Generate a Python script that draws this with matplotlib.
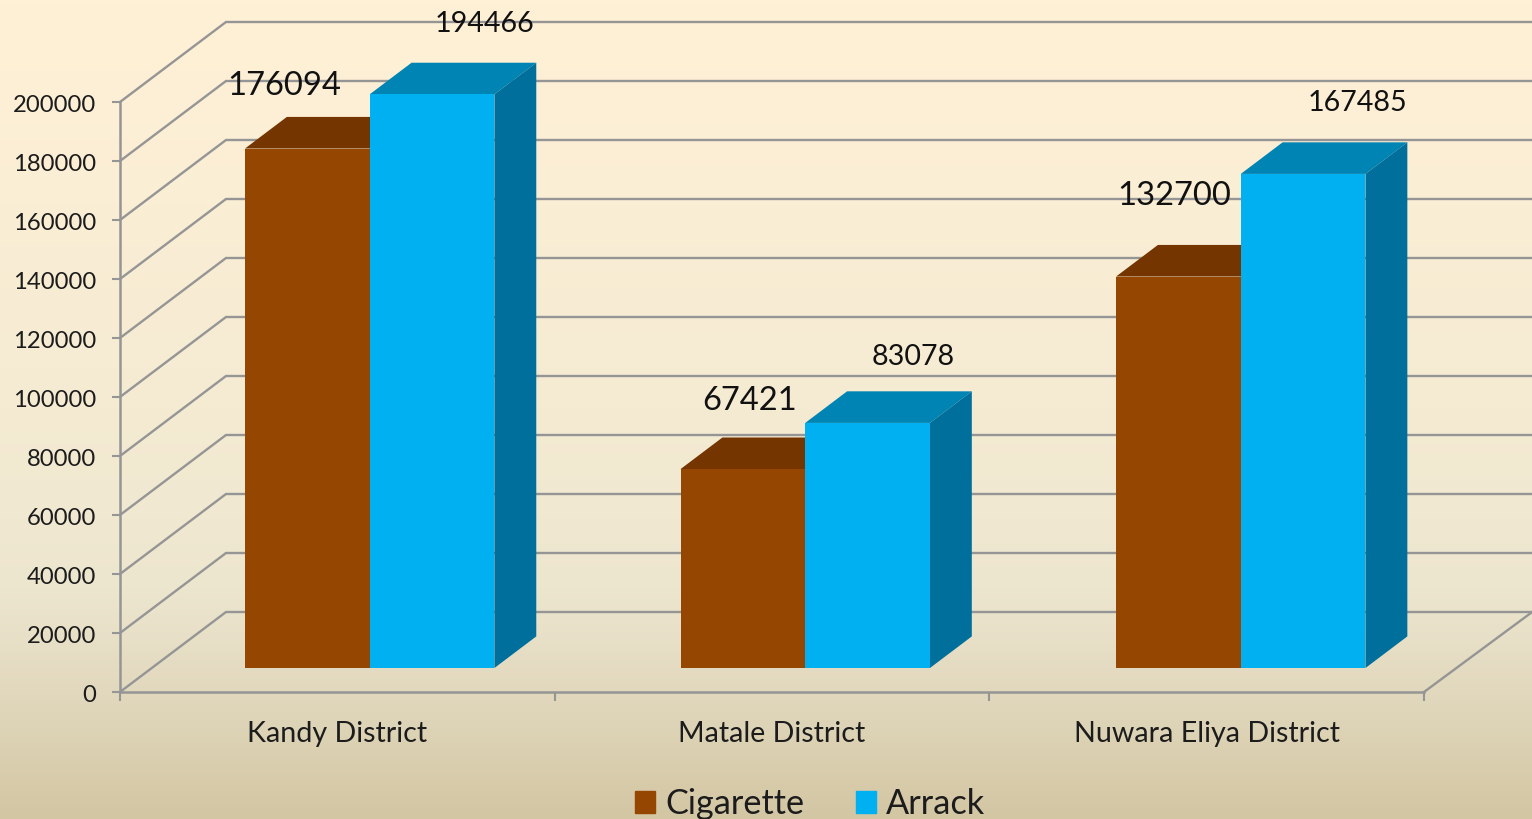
import matplotlib
matplotlib.use("Agg")
import matplotlib.pyplot as plt
from matplotlib.colors import LinearSegmentedColormap
from matplotlib.patches import Polygon, Patch
from matplotlib.transforms import ScaledTranslation
import numpy as np

# data
districts = ["Kandy District", "Matale District", "Nuwara Eliya District"]
cigarette = [176094, 67421, 132700]
arrack = [194466, 83078, 167485]
y_ticks = [0, 20000, 40000, 60000, 80000, 100000, 120000, 140000, 160000, 180000, 200000]

W, H = 1532, 819
plt.rcParams["font.family"] = ["Lato", "DejaVu Sans"]
TEXT = "#1c1c1c"
GRID = "#959595"

fig = plt.figure(figsize=(W / 100, H / 100), dpi=100)

# background gradient
bg = fig.add_axes([0, 0, 1, 1], zorder=0)
cmap = LinearSegmentedColormap.from_list("bg", [(0, "#FFF1D6"), (0.5, "#F5EBD3"), (0.72, "#EDE6CF"),
                                                (0.85, "#E1D8BD"), (1, "#D3C6A3")])
bg.imshow(np.linspace(0, 1, 256).reshape(-1, 1), cmap=cmap, aspect="auto")
bg.axis("off")

# plot area, front plane of the 3d box
ax = fig.add_axes([120 / W, 1 - 692 / H, 1304 / W, 590 / H], zorder=1)
ax.patch.set_alpha(0)
ax.set_xlim(0, 3)
ax.set_ylim(0, 200000)

# oblique depth: one unit of depth in data units
depth_x = 106 / (1304 / 3)
depth_y = 80 / 590 * 200000


def proj(x, y, z):
    return x + z * depth_x, y + z * depth_y


# walls
for v in y_ticks:
    x0, y0 = proj(0, v, 0)
    x1, y1 = proj(0, v, 1)
    x2, y2 = proj(3.02, v, 1)
    ax.plot([x0, x1, x2], [y0, y1, y1], color=GRID, lw=1.7, clip_on=False, zorder=2, solid_joinstyle="miter")
x0, y0 = proj(3, 0, 0)
x1, y1 = proj(3.005, 0, 1)
ax.plot([x0, x1], [y0, y1], color=GRID, lw=1.7, clip_on=False, zorder=2)

# bars
bar_w = 0.2869
z_front = 0.30
z_back = 0.695
first = 0.2144
spacing = 1.002
series = [(cigarette, "#954600", "#743500", "#743500", "Cigarette"),
          (arrack, "#00B0F0", "#0084B4", "#006F9C", "Arrack")]
label_sizes = [23.6, 20.6]
label_off = [[(-23, 63), (7, 68), (-4, 81)], [(52, 70), (46, 66), (54, 71)]]

for j in range(3):
    for s, (vals, front, top, side, name) in enumerate(series):
        v = vals[j]
        left = j * spacing + first + s * bar_w
        right = left + bar_w
        xf0, base = proj(left, 0, z_front)
        xf1, yf = proj(right, v, z_front)
        xb0, yb = proj(left, v, z_back)
        xb1, base_b = proj(right, 0, z_back)
        ax.bar(xf0, v, bar_w, bottom=base, align="edge", color=front, clip_on=False, zorder=5 + s)
        ax.add_patch(Polygon([(xf0, yf), (xb0, yb), (xb1, yb), (xf1, yf)], closed=True,
                             fc=top, ec="none", clip_on=False, zorder=4 + s))
        ax.add_patch(Polygon([(xf1, yf), (xb1, yb), (xb1, base_b), (xf1, base)], closed=True,
                             fc=side, ec="none", clip_on=False, zorder=4 + s))
        ax.annotate(str(v), (xf0 + bar_w / 2, yf), xytext=label_off[s][j], textcoords="offset pixels",
                    ha="center", va="center", fontsize=label_sizes[s], color="#111111",
                    annotation_clip=False, zorder=9)

# axes
for side in ["top", "right"]:
    ax.spines[side].set_visible(False)
for side in ["left", "bottom"]:
    ax.spines[side].set_color(GRID)
    ax.spines[side].set_linewidth(1.8)
    ax.spines[side].set_zorder(3)
ax.set_yticks(y_ticks)
ax.set_yticklabels([str(v) for v in y_ticks])
ax.tick_params(axis="y", length=5.8, width=1.5, color=GRID, pad=11.5, labelsize=17.2, labelcolor=TEXT)
for lbl in ax.get_yticklabels():
    lbl.set_transform(lbl.get_transform() + ScaledTranslation(0, -1.5 / 100, fig.dpi_scale_trans))
ax.set_xticks([0, 1, 2, 3])
ax.set_xticklabels([])
ax.tick_params(axis="x", length=6.5, width=1.5, color=GRID)
ax.set_xticks([0.5, 1.5, 2.5], labels=districts, minor=True)
ax.tick_params(axis="x", which="minor", length=0, pad=21, labelsize=20.6, labelcolor=TEXT)

# legend
handles = [Patch(color=s[1], label=s[4]) for s in series]
fig.legend(handles=handles, loc="lower center", bbox_to_anchor=(810 / W, -25 / H), ncol=2, frameon=False,
           fontsize=24.7, labelcolor=TEXT, handlelength=0.58, handleheight=0.58, handletextpad=0.3,
           columnspacing=1.5, borderpad=0.2)

fig.savefig("out.png", dpi=100)
